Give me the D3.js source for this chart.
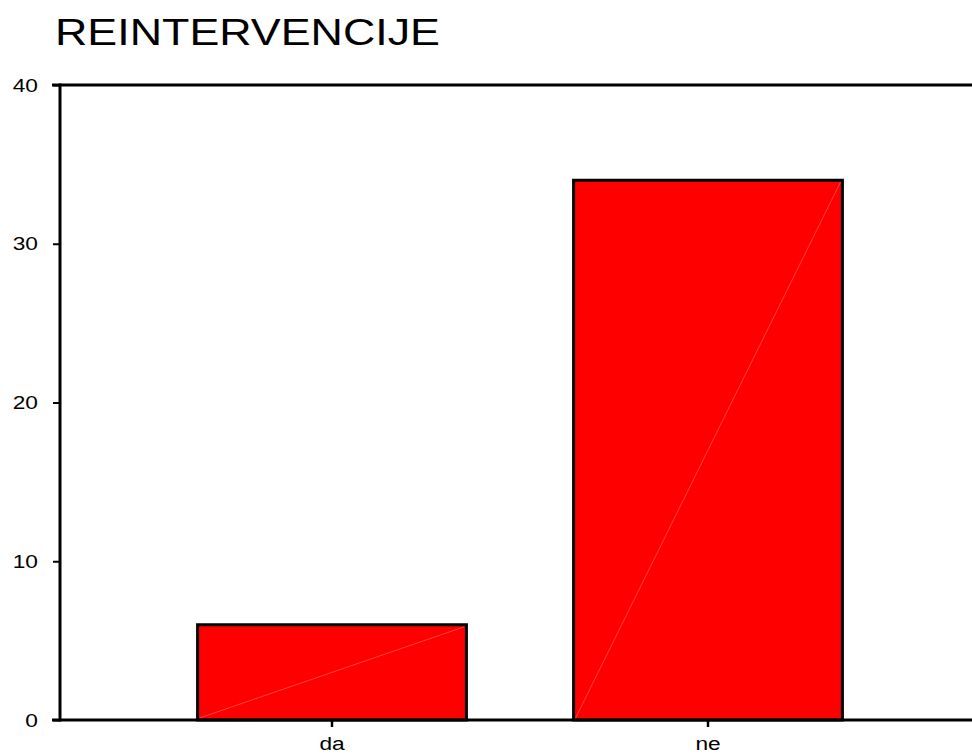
<!DOCTYPE html>
<html>
<head>
<meta charset="utf-8">
<script src="https://cdn.jsdelivr.net/npm/d3@7"></script>
<style>
  html, body { margin: 0; padding: 0; background: #fff; }
  svg { display: block; }
  text { font-family: "Liberation Sans", Arial, sans-serif; fill: #000; }
</style>
</head>
<body>
<script>
const title = "REINTERVENCIJE";
const categories = ["da", "ne"];
const values = [6, 34];
const yTicks = [0, 10, 20, 30, 40];

const W = 972, H = 754;
const svg = d3.select("body").append("svg").attr("width", W).attr("height", H);

const y = d3.scaleLinear().domain([0, 40]).range([720, 85]);
const x = d3.scaleBand().domain(categories).range([144, 896])
  .paddingInner(0.285).paddingOuter(0.1425);

const xStretch = 1.22;

// Title
svg.append("text")
  .attr("x", 55).attr("y", 45)
  .attr("font-size", 37.5)
  .attr("textLength", 385)
  .attr("lengthAdjust", "spacingAndGlyphs")
  .text(title);

// Bars
const bars = svg.append("g");
categories.forEach((c, i) => {
  const x0 = x(c), w = x.bandwidth(), yt = y(values[i]), yb = y(0);
  bars.append("rect")
    .attr("x", x0).attr("y", yt).attr("width", w).attr("height", yb - yt)
    .attr("fill", "#ff0000").attr("stroke", "#000").attr("stroke-width", 3);
  bars.append("line")
    .attr("x1", x0 + 2).attr("y1", yb - 2).attr("x2", x0 + w - 2).attr("y2", yt + 2)
    .attr("stroke", "#ff7070").attr("stroke-width", 0.6);
});

// Frame lines
svg.append("line").attr("x1", 52).attr("x2", W).attr("y1", y(40)).attr("y2", y(40))
  .attr("stroke", "#000").attr("stroke-width", 3);
svg.append("line").attr("x1", 52).attr("x2", W).attr("y1", y(0)).attr("y2", y(0))
  .attr("stroke", "#000").attr("stroke-width", 3);
svg.append("line").attr("x1", 60).attr("x2", 60).attr("y1", y(40) - 1.5).attr("y2", y(0) + 1.5)
  .attr("stroke", "#000").attr("stroke-width", 3);

// Y axis
const ya = svg.append("g").attr("transform", "translate(60,0)")
  .call(d3.axisLeft(y).tickValues(yTicks).tickSize(7).tickSizeOuter(0));
ya.select(".domain").remove();
ya.selectAll(".tick line").attr("stroke", "#000").attr("stroke-width", 2);
ya.selectAll(".tick text")
  .attr("font-size", 18.6)
  .attr("font-family", "Liberation Sans, Arial, sans-serif")
  .attr("x", null).attr("dy", null)
  .attr("transform", `translate(-22,6) scale(${xStretch},1)`)
  .attr("text-anchor", "end");

// X axis
const xa = svg.append("g").attr("transform", `translate(0,${y(0)})`)
  .call(d3.axisBottom(x).tickSize(7).tickSizeOuter(0));
xa.select(".domain").remove();
xa.selectAll(".tick line").attr("stroke", "#000").attr("stroke-width", 2.5);
xa.selectAll(".tick text")
  .attr("font-size", 18.6)
  .attr("font-family", "Liberation Sans, Arial, sans-serif")
  .attr("y", null).attr("dy", null)
  .attr("transform", `translate(0,30) scale(${xStretch},1)`)
  .attr("text-anchor", "middle");
</script>
</body>
</html>
